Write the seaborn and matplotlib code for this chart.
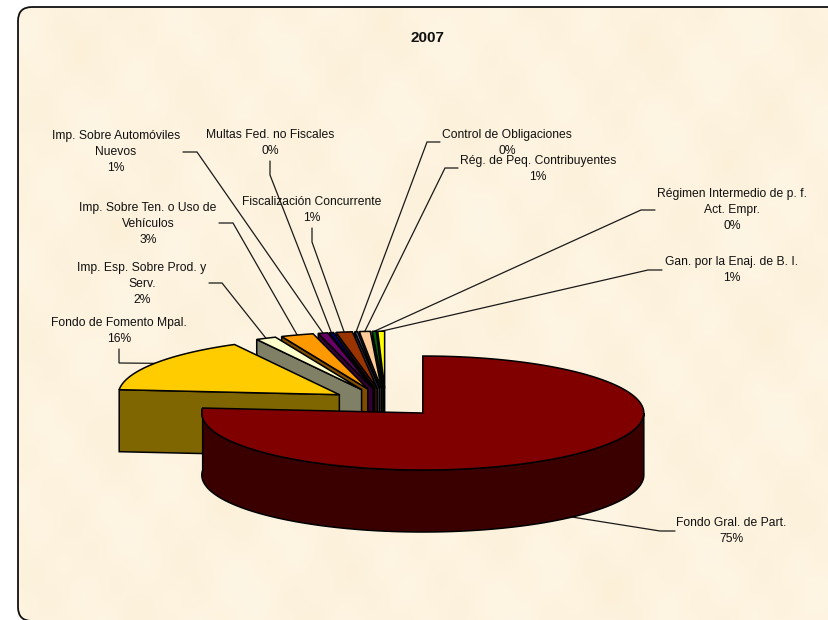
import numpy as np
import matplotlib
matplotlib.use('Agg')
import matplotlib.pyplot as plt
from matplotlib.patches import FancyBboxPatch, Polygon
import seaborn as sns

# slices, clockwise from 12 o'clock
categories = ['Fondo Gral. de Part.', 'Fondo de Fomento Mpal.',
              'Imp. Esp. Sobre Prod. y\nServ.', 'Imp. Sobre Ten. o Uso de\nVehículos',
              'Imp. Sobre Automóviles\nNuevos', 'Multas Fed. no Fiscales',
              'Fiscalización Concurrente', 'Control de Obligaciones',
              'Rég. de Peq. Contribuyentes', 'Régimen Intermedio de p. f.\nAct. Empr.',
              'Gan. por la Enaj. de B. I.']
values = [76.7, 15.8, 1.5, 2.4, 0.7, 0.3, 1.2, 0.2, 0.8, 0.3, 0.5]
pct_labels = ['75%', '16%', '2%', '3%', '1%', '0%', '1%', '0%', '1%', '0%', '1%']
slice_colors = ['#800000', '#ffcc00', '#ffffcc', '#ff9900', '#660066', '#000080',
                '#993300', '#666699', '#ffcc99', '#006600', '#ffff00']

# label centres and the elbow of each leader line, in pixels
label_xy = [(731, 531), (119, 331), (142, 284), (148, 224), (116, 152), (270, 143),
            (312, 210), (507, 143), (538, 169), (732, 210), (732, 270)]
elbow_xy = [[(675, 531), (660, 531)], [(119, 349), (119, 363)], [(209, 283), (222, 283)],
            [(219, 223), (233, 223)], [(183, 152), (197, 152)], [(270, 161), (270, 175)],
            [(312, 228), (312, 242)], [(440, 142), (427, 142)], [(458, 168), (445, 168)],
            [(655, 210), (641, 210)], [(662, 270), (648, 270)]]

W, H = 829, 620
CX, CY = 385.5, 402.5
RX, RY = 221, 57
DEPTH = 62
EXPLODE = 0.25

sns.set_theme(style='white')
plt.rcParams['font.family'] = ['Liberation Sans', 'DejaVu Sans']
palette = sns.color_palette(slice_colors)

fig = plt.figure(figsize=(W / 100, H / 100), dpi=100)
ax = fig.add_axes([0, 0, 1, 1])
ax.set_xlim(0, W)
ax.set_ylim(H, 0)
ax.axis('off')

# parchment background
xx, yy = np.meshgrid(np.arange(W), np.arange(H))
mottle = (np.sin(xx / 23.0 + yy / 37.0) + np.sin(xx / 13.0 - yy / 19.0 + 1.3)
          + np.sin(xx / 41.0 + 2.1) * np.sin(yy / 29.0) + np.sin(xx / 7.3 + yy / 9.1 + 0.4) * 0.4)
tex = np.dstack([253 + mottle * 0.3, 243 + mottle * 0.8, 223 + mottle * 1.8]) / 255
img = ax.imshow(np.clip(tex, 0, 1), extent=(0, W, H, 0), aspect='auto', zorder=0)
ax.set_xlim(0, W)
ax.set_ylim(H, 0)
frame = FancyBboxPatch((18, 7), W + 30, H - 6, boxstyle='round,pad=0,rounding_size=14',
                       fc='none', ec='#111111', lw=1.3, zorder=1)
ax.add_patch(frame)
img.set_clip_path(frame)

# angles, clockwise from the top, in radians
edges = np.radians(np.concatenate([[0], np.cumsum(values)]) / np.sum(values) * 360)


def rim(apex, a):
    return np.column_stack([apex[0] + RX * np.sin(a), apex[1] - RY * np.cos(a)])


def draw_slice(i):
    a0, a1 = edges[i], edges[i + 1]
    mid = (a0 + a1) / 2
    apex = (CX + EXPLODE * RX * np.sin(mid), CY - EXPLODE * RY * np.cos(mid))
    arc = rim(apex, np.linspace(a0, a1, 200))
    side = np.array(palette[i]) / 2
    if i == 0:
        # big slice shows its curved outer wall
        front = rim(apex, np.linspace(np.pi / 2, a1, 200))
        wall = np.vstack([front, (front + [0, DEPTH])[::-1]])
        ax.add_patch(Polygon(wall, fc=side * 0.9, ec='black', lw=1.1, zorder=23 - i))
    else:
        # cut face at the start of the slice
        p = arc[0]
        wall = [apex, p, (p[0], p[1] + DEPTH), (apex[0], apex[1] + DEPTH)]
        ax.add_patch(Polygon(wall, fc=side, ec='black', lw=1.1, zorder=23 - i))
    top = np.vstack([[apex], arc])
    ax.add_patch(Polygon(top, fc=palette[i], ec='black', lw=1.1, zorder=23.5 - i))
    return apex, mid


anchors = []
for i in range(len(values) - 1, -1, -1):
    apex, mid = draw_slice(i)
    pt = rim(apex, np.array([mid]))[0]
    if i == 0:
        pt = pt + [0, DEPTH]
    anchors.append((i, pt))

# leader lines and labels
for i, pt in anchors:
    pts = np.vstack([elbow_xy[i], [pt]])
    ax.plot(pts[:, 0], pts[:, 1], color='#1a1a1a', lw=0.9, zorder=2, solid_joinstyle='miter')
    ax.text(label_xy[i][0], label_xy[i][1], categories[i] + '\n' + pct_labels[i], ha='center',
            va='center', ma='center', fontsize=8.7, color='#111111', linespacing=1.4, zorder=30)

ax.text(427, 38, '2007', ha='center', va='center', fontsize=11, fontweight='bold',
        color='#111111', zorder=30)

fig.savefig('out.png', dpi=100)
